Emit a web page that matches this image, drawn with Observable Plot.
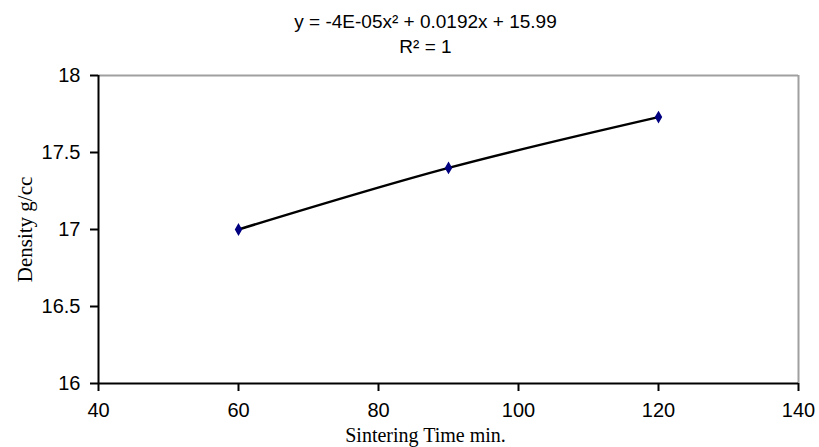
<!DOCTYPE html>
<html>
<head>
<meta charset="utf-8">
<script src="https://cdn.jsdelivr.net/npm/d3@7"></script>
<script src="https://cdn.jsdelivr.net/npm/@observablehq/plot@0.6"></script>
<style>
  html, body { margin: 0; padding: 0; background: white; }
</style>
</head>
<body>
<div id="chart"></div>
<script>
// Data
const sinteringTime = [60, 90, 120];
const density = [17.0, 17.4, 17.73];
const xTicks = [40, 60, 80, 100, 120, 140];
const yTicks = [16, 16.5, 17, 17.5, 18];
const titleLines = ["y = -4E-05x² + 0.0192x + 15.99", "R² = 1"];
const xLabel = "Sintering Time min.";
const yLabel = "Density g/cc";

const data = sinteringTime.map((t, i) => ({ t, d: density[i] }));

const chart = Plot.plot({
  width: 819,
  height: 447,
  marginLeft: 98,
  marginRight: 21,
  marginTop: 75,
  marginBottom: 64,
  style: { fontFamily: "'Liberation Sans', Arial, sans-serif", fontSize: "20px", color: "black", background: "white" },
  x: { domain: [40, 140], label: null },
  y: { domain: [16, 18], label: null },
  marks: [
    // gray top & right border
    Plot.ruleY([18], { stroke: "#a0a0a0", strokeWidth: 2 }),
    Plot.ruleX([140], { stroke: "#a0a0a0", strokeWidth: 2 }),
    Plot.axisX({ ticks: xTicks, tickSize: 8, tickPadding: 11, strokeWidth: 2, fontSize: 20, tickFormat: d => String(d) }),
    Plot.axisY({ ticks: yTicks, tickSize: 8, tickPadding: 10, strokeWidth: 2, fontSize: 20, tickFormat: d => String(d) }),
    Plot.ruleX([40], { stroke: "black", strokeWidth: 2 }),
    Plot.ruleY([16], { stroke: "black", strokeWidth: 2 }),
    Plot.line(data, { x: "t", y: "d", curve: "natural", stroke: "black", strokeWidth: 2.5 }),
    Plot.dot(data, { x: "t", y: "d", symbol: "diamond", fill: "#000080", stroke: "#000080", r: 3 }),
    Plot.text([titleLines[0]], { frameAnchor: "top", dx: -23, dy: -54, fontSize: 19, lineAnchor: "middle", text: d => d }),
    Plot.text([titleLines[1]], { frameAnchor: "top", dx: -23, dy: -29, fontSize: 19, lineAnchor: "middle", text: d => d }),
    Plot.text([xLabel], { frameAnchor: "bottom", dx: -23, dy: 52, fontSize: 20, fontFamily: "'Liberation Serif', 'Times New Roman', serif", lineAnchor: "middle", text: d => d }),
    Plot.text([yLabel], { frameAnchor: "left", dx: -73, rotate: -90, fontSize: 21, textAnchor: "middle", fontFamily: "'Liberation Serif', 'Times New Roman', serif", lineAnchor: "middle", text: d => d })
  ]
});

document.getElementById("chart").appendChild(chart);
</script>
</body>
</html>
